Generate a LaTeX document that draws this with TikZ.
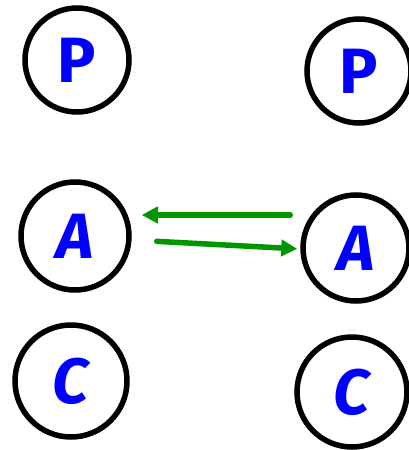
\documentclass[tikz,border=0pt]{standalone}
\usepackage{fontspec}
\setmainfont{Fira Sans}
\usetikzlibrary{arrows.meta}

\definecolor{linkgreen}{RGB}{0,150,0}

\tikzset{
	unit/.style={draw,circle,line width=5.5pt,inner sep=0pt,text=blue,
		font=\fontsize{64}{64}\selectfont\bfseries},
	link/.style={-{Triangle[length=16pt,width=16pt]},line width=5.5pt,
		line cap=round,linkgreen}
}

\begin{document}
\begin{tikzpicture}[x=1pt,y=-1pt]
		\useasboundingbox (0,0) rectangle (408,450);
		
		% left column
		\node[unit,minimum size=104pt] (lP) at (77,60) {P};
		\node[unit,minimum size=108pt] (lA) at (75,236) {\itshape A};
		\node[unit,minimum size=112pt] (lC) at (71,381) {\itshape C};
		
		% right column
		\node[unit,minimum size=104pt] (rP) at (359,71) {P};
		\node[unit,minimum size=106pt] (rA) at (356,248) {\itshape A};
		\node[unit,minimum size=110pt] (rC) at (352,392) {\itshape C};
		
		\draw[link,shorten <=10pt,shorten >=10pt] ([yshift=33pt]rA.west) -- ([yshift=21pt]lA.east);
		\draw[link,shorten <=25pt,shorten >=3pt] ([yshift=-4pt]lA.east) -- ([yshift=-1pt]rA.west);
		\end{tikzpicture}
\end{document}
